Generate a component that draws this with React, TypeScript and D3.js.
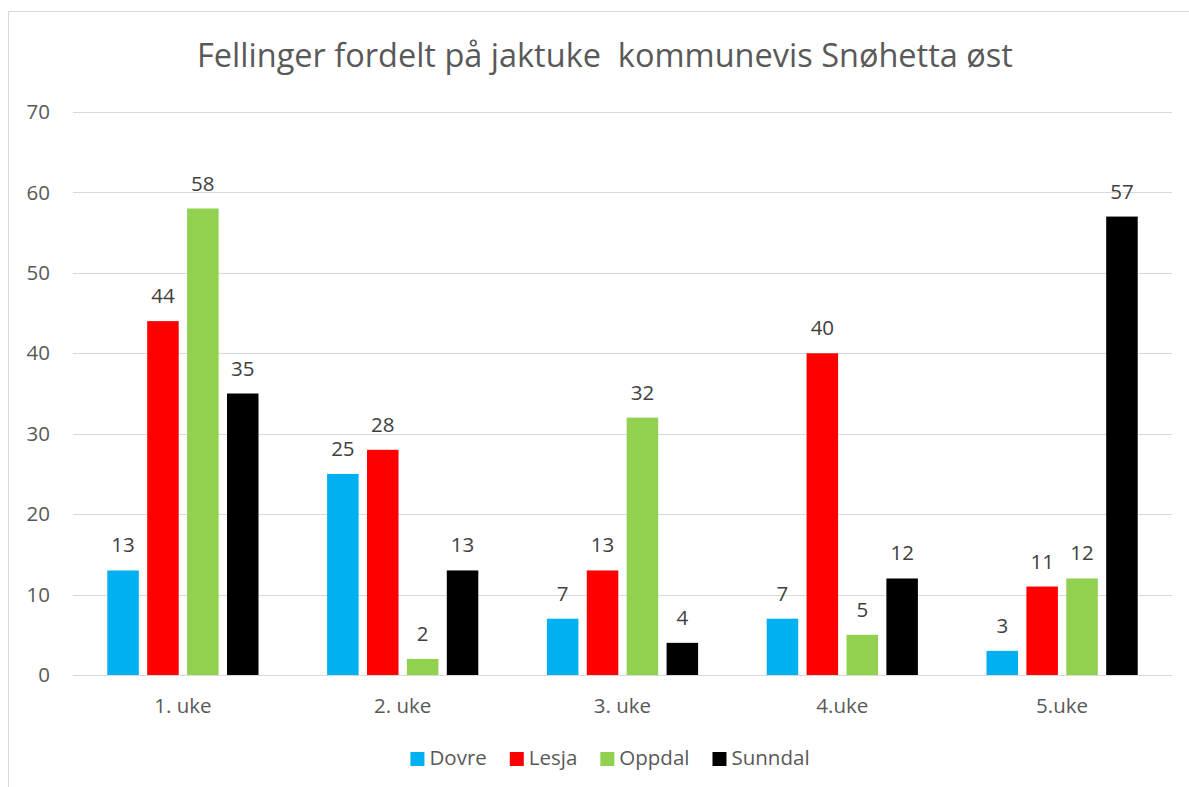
import React, { useRef, useEffect } from 'react';
import * as d3 from 'd3';

// data
const categories = ['1. uke', '2. uke', '3. uke', '4.uke', '5.uke'];
const seriesNames = ['Dovre', 'Lesja', 'Oppdal', 'Sunndal'];
const seriesColors = ['#00B0F0', '#FF0000', '#92D050', '#000000'];
const dovre = [13, 25, 7, 7, 3];
const lesja = [44, 28, 13, 40, 11];
const oppdal = [58, 2, 32, 5, 12];
const sunndal = [35, 13, 4, 12, 57];
const yTicks = [0, 10, 20, 30, 40, 50, 60, 70];
const title = 'Fellinger fordelt på jaktuke  kommunevis Snøhetta øst';

const FONT = '"Open Sans", "Segoe UI", sans-serif';
const TEXT = '#595959';
const SMALL = '20.5px';

export default function App() {
  const svgRef = useRef<SVGSVGElement>(null);

  useEffect(() => {
    if (!svgRef.current) return;
    const svg = d3.select(svgRef.current);
    svg.selectAll('*').remove();

    // svg is pinned to the viewport, so these are page coordinates
    const root = svg.append('g');

    const plot = { left: 73, right: 1172, top: 112, bottom: 675 };

    // chart frame (runs off the right and bottom edges)
    root.append('rect')
      .attr('x', 8.5).attr('y', 11.5)
      .attr('width', 1200).attr('height', 820)
      .attr('fill', '#fff').attr('stroke', '#d9d9d9').attr('stroke-width', 1);

    root.append('text')
      .attr('x', 605).attr('y', 67)
      .attr('text-anchor', 'middle')
      .style('white-space', 'pre')
      .style('font-family', FONT).style('font-size', '32.5px').style('fill', TEXT)
      .text(title);

    const y = d3.scaleLinear().domain([0, 70]).range([plot.bottom, plot.top]);
    const x0 = d3.scaleBand().domain(categories).range([plot.left, plot.right]);
    const groupSpan = 151.2;
    const x1 = d3.scaleBand().domain(seriesNames)
      .range([-groupSpan / 2, groupSpan / 2])
      .paddingInner(0.21).paddingOuter(0);

    // gridlines
    root.append('g').selectAll('line').data(yTicks).join('line')
      .attr('x1', plot.left).attr('x2', plot.right)
      .attr('y1', d => Math.round(y(d)) + 0.5).attr('y2', d => Math.round(y(d)) + 0.5)
      .attr('stroke', '#d9d9d9').attr('stroke-width', 1);

    root.append('g').selectAll('text').data(yTicks).join('text')
      .attr('x', 50).attr('y', d => y(d))
      .attr('dy', '0.35em').attr('text-anchor', 'end')
      .style('font-family', FONT).style('font-size', SMALL).style('fill', TEXT)
      .text(d => d);

    const values = [dovre, lesja, oppdal, sunndal];
    const cells = seriesNames.flatMap((s, si) =>
      categories.map((c, ci) => ({ s, c, v: values[si][ci], color: seriesColors[si] })));

    const bars = root.append('g');
    bars.selectAll('rect').data(cells).join('rect')
      .attr('x', d => x0(d.c)! + x0.bandwidth() / 2 + x1(d.s)!)
      .attr('y', d => y(d.v))
      .attr('width', x1.bandwidth())
      .attr('height', d => y(0) - y(d.v))
      .attr('fill', d => d.color);

    bars.selectAll('text').data(cells).join('text')
      .attr('x', d => x0(d.c)! + x0.bandwidth() / 2 + x1(d.s)! + x1.bandwidth() / 2)
      .attr('y', d => y(d.v) - 18)
      .attr('text-anchor', 'middle')
      .style('font-family', FONT).style('font-size', SMALL).style('fill', '#404040')
      .text(d => d.v);

    // category axis
    root.append('g').selectAll('text').data(categories).join('text')
      .attr('x', d => x0(d)! + x0.bandwidth() / 2)
      .attr('y', 713)
      .attr('text-anchor', 'middle')
      .style('font-family', FONT).style('font-size', SMALL).style('fill', TEXT)
      .text(d => d);

    // legend
    const legend = root.append('g');
    const items = legend.selectAll('g').data(seriesNames).join('g');
    items.append('rect')
      .attr('width', 14).attr('height', 14).attr('y', -13)
      .attr('fill', (_, i) => seriesColors[i]);
    items.append('text')
      .attr('x', 19).attr('y', 0)
      .style('font-family', FONT).style('font-size', SMALL).style('fill', TEXT)
      .text(d => d);
    const widths: number[] = [];
    items.each(function () {
      widths.push((this as SVGGElement).getBBox().width);
    });
    const gap = 23;
    const total = d3.sum(widths) + gap * (widths.length - 1);
    let cx = 610 - total / 2;
    items.attr('transform', (_, i) => {
      const t = `translate(${cx},765)`;
      cx += widths[i] + gap;
      return t;
    });
  }, []);

  return (
    <svg
      ref={svgRef}
      width={1189}
      height={787}
      style={{ display: 'block', position: 'fixed', left: 0, top: 0 }}
    />
  );
}
